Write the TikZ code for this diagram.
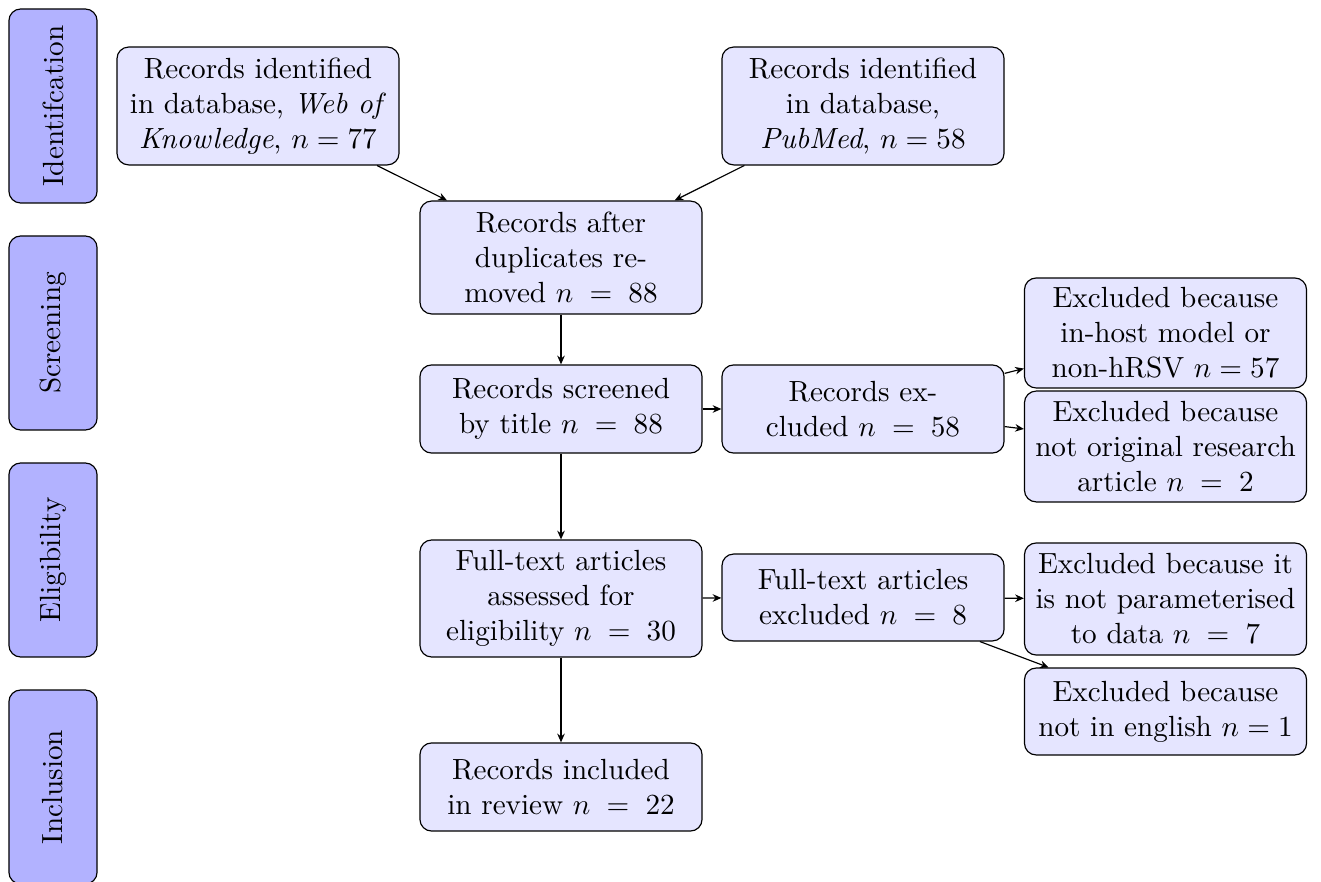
\documentclass[tikz,border=0pt]{standalone}
\usetikzlibrary{arrows.meta}
\begin{document}
\begin{tikzpicture}[x=0.3428pt,y=-0.3428pt,
  box/.style={draw, rounded corners=4pt, fill=blue!10, align=center,
              minimum width=96.7pt, inner sep=2pt},
  stage/.style={draw, rounded corners=4pt, fill=blue!30, rotate=90,
                minimum width=66.5pt, minimum height=30.2pt, inner sep=2pt},
  flow/.style={-{Stealth[length=3pt,width=2.6pt]}}]
\useasboundingbox (0,0) rectangle (1321,882);

% stage labels on the left
\node[stage] (sid)  at (53,106) {Identifcation};
\node[stage] (sscr) at (53,333) {Screening};
\node[stage] (selg) at (53,560) {Eligibility};
\node[stage] (sinc) at (53,787) {Inclusion};

% identification
\node[box, minimum height=40.4pt] (wok) at (258,106)
  {Records identified\\in database, \emph{Web of}\\\emph{Knowledge}, $n=77$};
\node[box, minimum height=40.4pt] (pub) at (863,106)
  {Records identified\\in database,\\\emph{PubMed}, $n=58$};

% screening
\node[box, minimum height=38.7pt] (dup) at (561,257.5)
  {Records after\\duplicates re-\\moved $n\;=\;88$};
\node[box, minimum height=30.2pt] (scr) at (561,409)
  {Records screened\\by title $n\;=\;88$};
\node[box, minimum height=30.2pt] (exc) at (863,409)
  {Records ex-\\cluded $n\;=\;58$};
\node[box, minimum height=37.7pt] (ex1) at (1165.5,333)
  {Excluded because\\in-host model or\\non-hRSV $n=57$};
\node[box, minimum height=38.0pt] (ex2) at (1165.5,446.5)
  {Excluded because\\not original research\\article $n\;=\;2$};

% eligibility
\node[box, minimum height=40.1pt] (ft) at (561,598.5)
  {Full-text articles\\assessed for\\eligibility $n\;=\;30$};
\node[box, minimum height=29.8pt] (fte) at (863,597.5)
  {Full-text articles\\excluded $n\;=\;8$};
\node[box, minimum height=38.4pt] (ex3) at (1165.5,599)
  {Excluded because it\\is not parameterised\\to data $n\;=\;7$};
\node[box, minimum height=29.8pt] (ex4) at (1165.5,711.5)
  {Excluded because\\not in english $n=1$};

% inclusion
\node[box, minimum height=30.2pt] (inc) at (561,787)
  {Records included\\in review $n\;=\;22$};

% connectors
\draw[flow] (wok) -- (dup);
\draw[flow] (pub) -- (dup);
\draw[flow] (dup) -- (scr);
\draw[flow] (scr) -- (exc);
\draw[flow] (exc) -- (ex1);
\draw[flow] (exc) -- (ex2);
\draw[flow] (scr) -- (ft);
\draw[flow] (ft) -- (fte);
\draw[flow] (fte) -- (ex3);
\draw[flow] (fte) -- (ex4);
\draw[flow] (ft) -- (inc);
\end{tikzpicture}
\end{document}
